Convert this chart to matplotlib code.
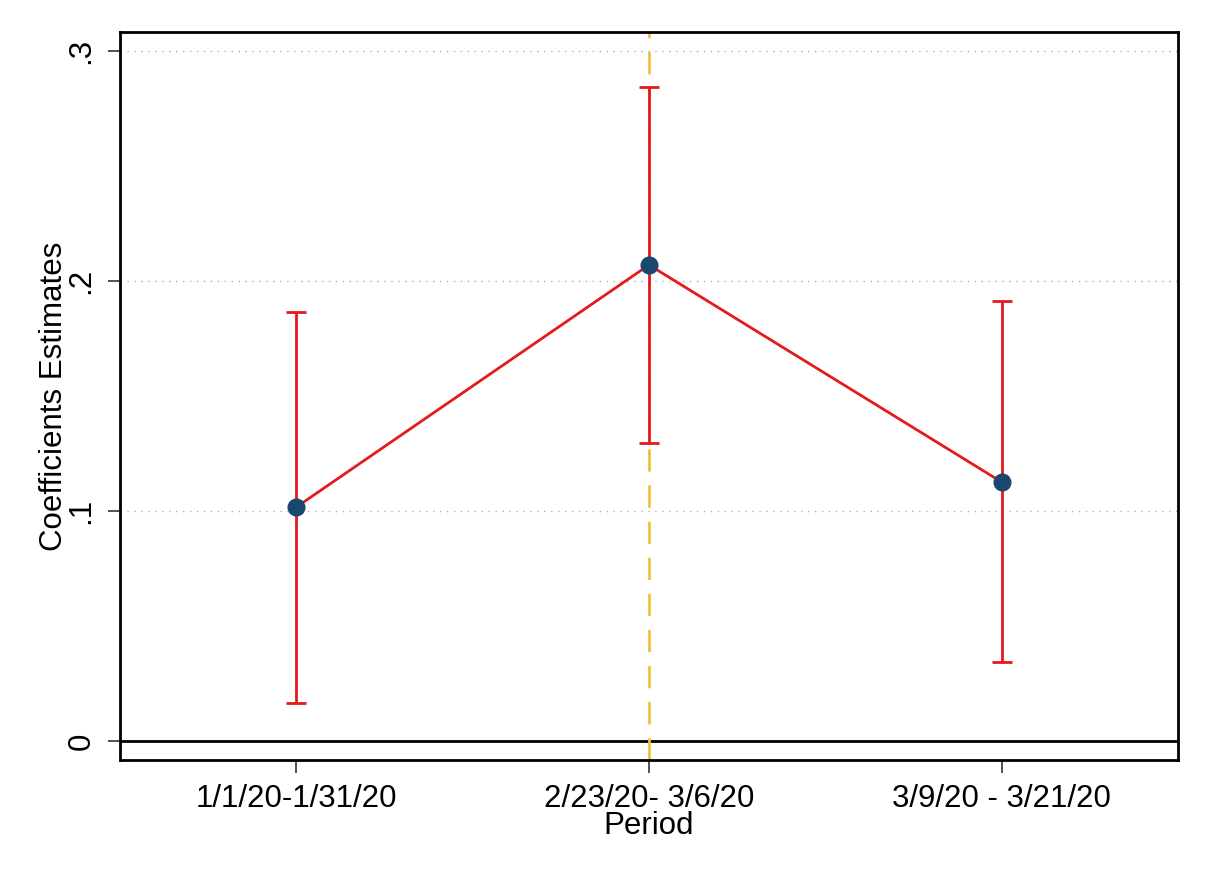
import numpy as np
import matplotlib
matplotlib.use("Agg")
import matplotlib.pyplot as plt

plt.rcParams['font.family'] = ['Liberation Sans', 'DejaVu Sans']

periods = ["1/1/20-1/31/20", "2/23/20- 3/6/20", "3/9/20 - 3/21/20"]
coef = [0.1017, 0.2070, 0.1126]
ci_low = [0.0165, 0.1296, 0.0343]
ci_high = [0.1865, 0.2843, 0.1913]
yticks = [0, 0.1, 0.2, 0.3]
ytick_labels = ["0", ".1", ".2", ".3"]

x = np.arange(1, len(periods) + 1)
coef = np.array(coef)
err = np.array([coef - np.array(ci_low), np.array(ci_high) - coef])

fig = plt.figure(figsize=(12.11, 8.81), dpi=100)
ax = fig.add_axes([0.0991, 0.1373, 0.8736, 0.8264])

for y in yticks[1:]:
    ax.axhline(y, color='#b0b0b0', lw=1, ls=(0, (1, 4)), zorder=0)
ax.axhline(0, color='black', lw=2, zorder=1)
ax.axvline(2, color='#efc13d', lw=2, ls=(0, (8, 5)), zorder=1)

ax.errorbar(x, coef, yerr=err, fmt='none', ecolor='#e41a1c', elinewidth=2,
            capsize=7.5, capthick=2, zorder=2)
ax.plot(x, coef, color='#e41a1c', lw=2, zorder=3)
ax.plot(x, coef, 'o', color='#1a476f', ms=12, zorder=4)

ax.set_xlim(0.5, 3.5)
ax.set_ylim(-0.0083, 0.3083)
ax.set_xticks(x)
ax.set_xticklabels(periods, fontsize=22.5)
ax.set_yticks(yticks)
ax.set_yticklabels(ytick_labels, fontsize=22.5, rotation=90, va='center')
ax.tick_params(axis='both', length=9, width=1.2, color='#333333', pad=8)
for s in ax.spines.values():
    s.set_linewidth(2)

ax.set_xlabel("Period", fontsize=22.5, labelpad=-2)
ax.set_ylabel("Coefficients Estimates", fontsize=22.5, labelpad=-2)

fig.savefig("out.png", dpi=100)
